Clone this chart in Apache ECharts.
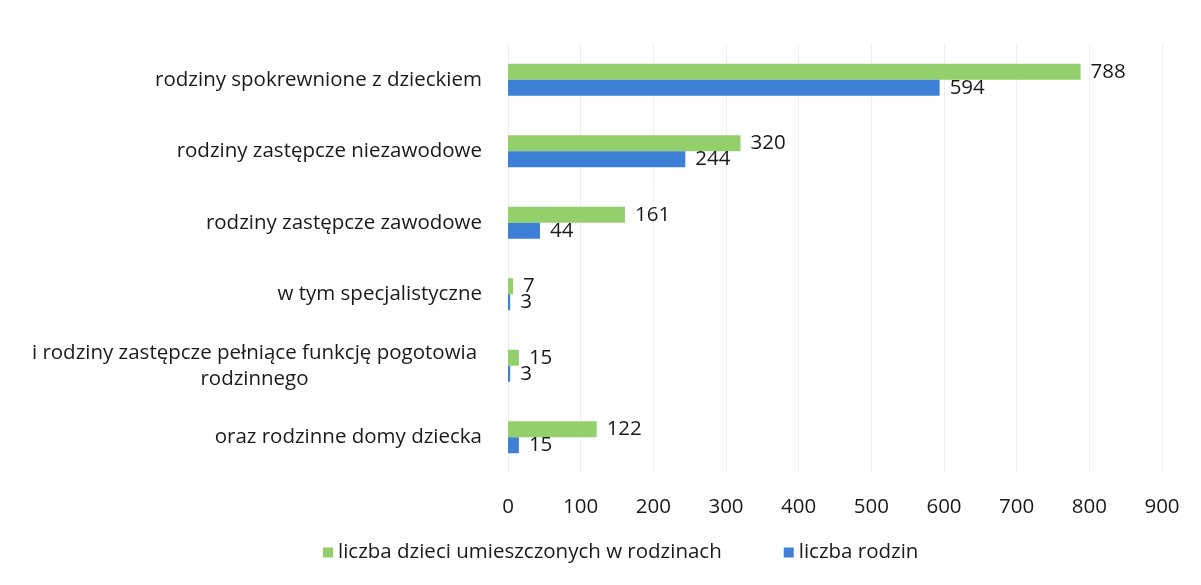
<!DOCTYPE html>
<html>
<head>
<meta charset="utf-8">
<script src="https://cdn.jsdelivr.net/npm/echarts@6/dist/echarts.min.js"></script>
<style>
  html, body { margin: 0; padding: 0; background: #fff; }
  #chart { width: 1201px; height: 585px; }
</style>
</head>
<body>
<div id="chart"></div>
<script>
  // kategorie od góry do dołu
  const categories = [
    'rodziny spokrewnione z dzieckiem',
    'rodziny zastępcze niezawodowe',
    'rodziny zastępcze zawodowe',
    'w tym specjalistyczne',
    'i rodziny zastępcze pełniące funkcję pogotowia\nrodzinnego',
    'oraz rodzinne domy dziecka'
  ];
  const dzieci = [788, 320, 161, 7, 15, 122];
  const rodziny = [594, 244, 44, 3, 3, 15];
  const xTicks = [0, 100, 200, 300, 400, 500, 600, 700, 800, 900];

  const green = '#93cf6b';
  const blue = '#3d80d6';
  const font = '"Open Sans", sans-serif';
  const fs = 20.5;

  const myChart = echarts.init(document.getElementById('chart'));

  const option = {
    backgroundColor: '#fff',
    textStyle: { fontFamily: font },
    grid: {
      left: 508,
      right: 39,
      top: 44,
      bottom: 112
    },
    legend: {
      bottom: 17,
      left: 318,
      itemWidth: 10,
      itemHeight: 10,
      itemGap: 62,
      icon: 'rect',
      textStyle: { fontSize: fs, color: '#1a1a1a', fontFamily: font },
      data: ['liczba dzieci umieszczonych w rodzinach', 'liczba rodzin']
    },
    xAxis: {
      type: 'value',
      min: xTicks[0],
      max: xTicks[xTicks.length - 1],
      interval: 100,
      axisLine: { show: false },
      axisTick: { show: false },
      axisLabel: { fontSize: fs, color: '#1a1a1a', margin: 24, fontFamily: font },
      splitLine: { show: true, lineStyle: { color: '#efefef', width: 1 } }
    },
    yAxis: {
      type: 'category',
      inverse: true,
      data: categories,
      axisLine: { show: true, lineStyle: { color: '#efefef' } },
      axisTick: { show: false },
      axisLabel: {
        fontSize: fs,
        color: '#1a1a1a',
        margin: 26,
        fontFamily: font,
        formatter: function (v) {
          // etykieta dwuwierszowa - wyśrodkowane linie
          if (v.indexOf('\n') >= 0) {
            return v.split('\n').map(function (s) { return '{c|' + s + '}'; }).join('\n');
          }
          return v;
        },
        rich: {
          c: { width: 455, align: 'center', fontSize: fs, color: '#1a1a1a', fontFamily: font, lineHeight: 26 }
        }
      }
    },
    series: [
      {
        name: 'liczba dzieci umieszczonych w rodzinach',
        type: 'bar',
        data: dzieci,
        barWidth: 16,
        barGap: '0%',
        itemStyle: { color: green },
        label: { show: true, position: 'right', distance: 10, fontSize: fs, color: '#1a1a1a', fontFamily: font }
      },
      {
        name: 'liczba rodzin',
        type: 'bar',
        data: rodziny,
        barWidth: 16,
        barGap: '0%',
        itemStyle: { color: blue },
        label: { show: true, position: 'right', distance: 10, fontSize: fs, color: '#1a1a1a', fontFamily: font }
      }
    ]
  };
  myChart.setOption(option);
</script>
</body>
</html>
